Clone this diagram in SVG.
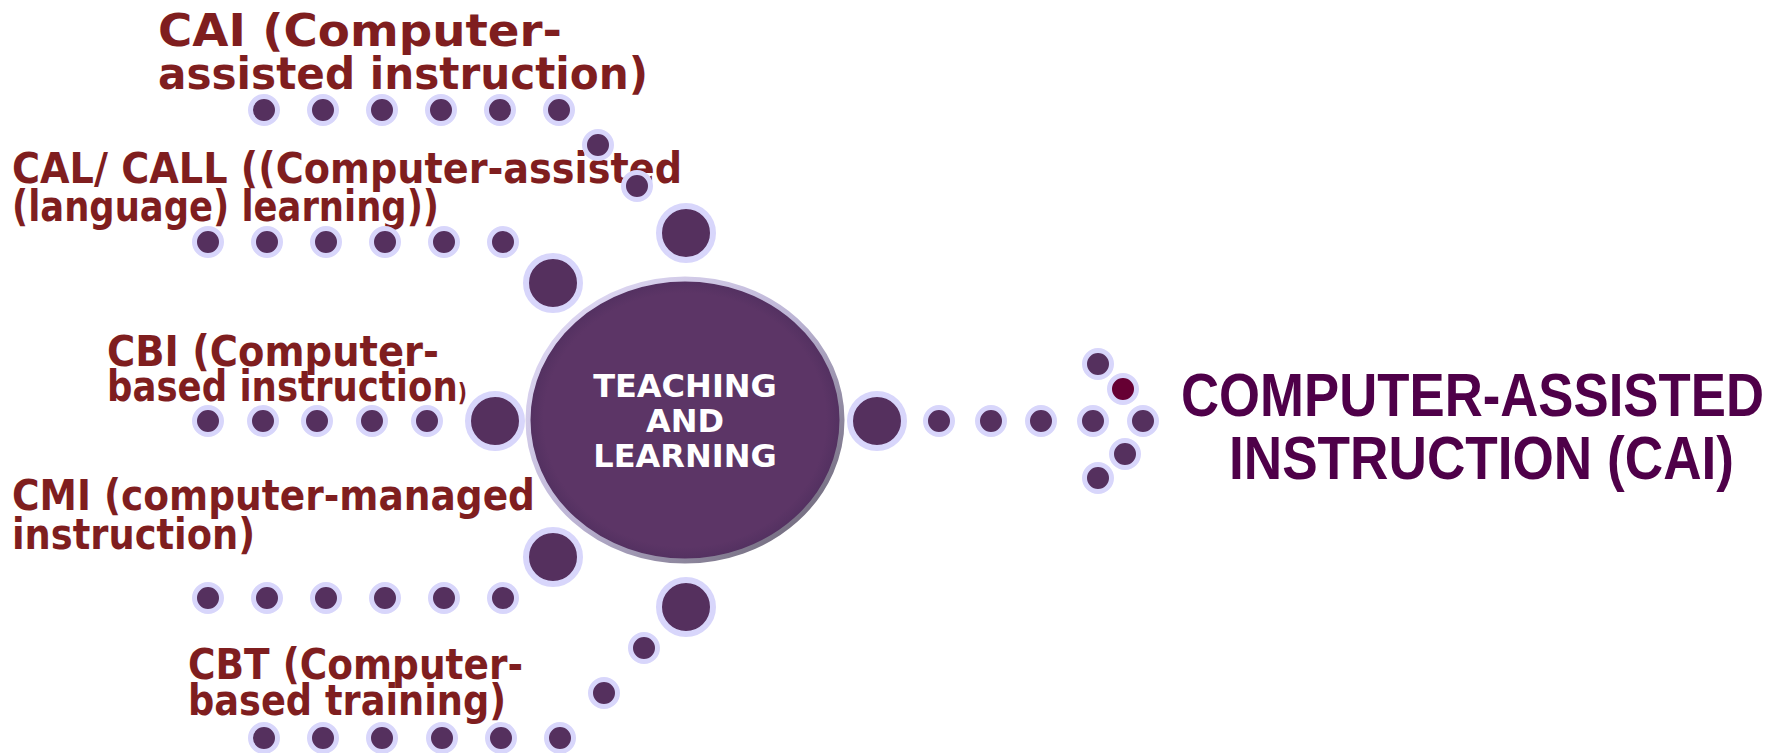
<svg xmlns="http://www.w3.org/2000/svg" width="1774" height="753" viewBox="0 0 1774 753">
<defs>
<linearGradient id="rim" x1="0" y1="0" x2="1" y2="1">
<stop offset="0" stop-color="#e8e2fc"/>
<stop offset="0.5" stop-color="#bcb4d4"/>
<stop offset="1" stop-color="#5e5866"/>
</linearGradient>
<radialGradient id="core" cx="0.5" cy="0.5" r="0.5">
<stop offset="0.9" stop-color="#5c3566"/>
<stop offset="1" stop-color="#523060"/>
</radialGradient>
</defs>
<style>
.lbl{font-family:"DejaVu Sans",sans-serif;font-weight:bold;font-size:42px;fill:#7f1e1f}
.lblw{font-family:"DejaVu Sans",sans-serif;font-weight:bold;font-size:45px;fill:#7f1e1f}
.ctr{font-family:"DejaVu Sans",sans-serif;font-weight:bold;font-size:32px;fill:#ffffff;text-anchor:middle}
.ttl{font-family:"Liberation Sans",Arial,sans-serif;font-weight:bold;font-size:53px;fill:#4f0049}
.d{fill:#55305e;stroke:#d8d6fb;stroke-width:5}
.b{fill:#55305e;stroke:#d8d6fb;stroke-width:6}
.r{fill:#660033;stroke:#d8d6fb;stroke-width:5}
</style>
<rect width="1774" height="753" fill="#ffffff"/>

<g id="label-cai">
<text class="lblw" x="158" y="46" textLength="404" lengthAdjust="spacingAndGlyphs">CAI (Computer-</text>
<text class="lblw" x="158" y="89" textLength="490" lengthAdjust="spacingAndGlyphs">assisted instruction)</text>
</g>
<g id="label-cal">
<text class="lbl" x="12" y="183" textLength="670" lengthAdjust="spacingAndGlyphs">CAL/ CALL ((Computer-assisted</text>
<text class="lbl" x="12" y="221" textLength="427" lengthAdjust="spacingAndGlyphs">(language) learning))</text>
</g>
<g id="label-cbi">
<text class="lbl" x="107" y="366" textLength="332" lengthAdjust="spacingAndGlyphs">CBI (Computer-</text>
<text class="lbl" x="107" y="401" textLength="360" lengthAdjust="spacingAndGlyphs">based instruction<tspan font-size="24">)</tspan></text>
</g>
<g id="label-cmi">
<text class="lbl" x="12" y="510" textLength="523" lengthAdjust="spacingAndGlyphs">CMI (computer-managed</text>
<text class="lbl" x="12" y="549" textLength="243" lengthAdjust="spacingAndGlyphs">instruction)</text>
</g>
<g id="label-cbt">
<text class="lbl" x="188" y="679" textLength="335" lengthAdjust="spacingAndGlyphs">CBT (Computer-</text>
<text class="lbl" x="188" y="715" textLength="318" lengthAdjust="spacingAndGlyphs">based training)</text>
</g>

<g id="connectors">
<g id="chain-cai">
<circle class="d" cx="264" cy="110" r="13.5"/><circle class="d" cx="323" cy="110" r="13.5"/><circle class="d" cx="382" cy="110" r="13.5"/><circle class="d" cx="441" cy="110" r="13.5"/><circle class="d" cx="500" cy="110" r="13.5"/><circle class="d" cx="559" cy="110" r="13.5"/>
<circle class="d" cx="598" cy="145" r="13.5"/><circle class="d" cx="637" cy="186" r="13.5"/>
<circle class="b" cx="686" cy="233" r="27"/>
</g>
<g id="chain-cal">
<circle class="d" cx="208" cy="242" r="13.5"/><circle class="d" cx="267" cy="242" r="13.5"/><circle class="d" cx="326" cy="242" r="13.5"/><circle class="d" cx="385" cy="242" r="13.5"/><circle class="d" cx="444" cy="242" r="13.5"/><circle class="d" cx="503" cy="242" r="13.5"/>
<circle class="b" cx="553" cy="283" r="27"/>
</g>
<g id="chain-cbi">
<circle class="d" cx="208" cy="421" r="13.5"/><circle class="d" cx="263" cy="421" r="13.5"/><circle class="d" cx="317" cy="421" r="13.5"/><circle class="d" cx="372" cy="421" r="13.5"/><circle class="d" cx="427" cy="421" r="13.5"/>
<circle class="b" cx="495" cy="421" r="27"/>
</g>
<g id="chain-cmi">
<circle class="b" cx="553" cy="557" r="27"/>
<circle class="d" cx="208" cy="598" r="13.5"/><circle class="d" cx="267" cy="598" r="13.5"/><circle class="d" cx="326" cy="598" r="13.5"/><circle class="d" cx="385" cy="598" r="13.5"/><circle class="d" cx="444" cy="598" r="13.5"/><circle class="d" cx="503" cy="598" r="13.5"/>
</g>
<g id="chain-cbt">
<circle class="b" cx="686" cy="607" r="27"/>
<circle class="d" cx="644" cy="648" r="13.5"/><circle class="d" cx="604" cy="693" r="13.5"/>
<circle class="d" cx="264" cy="738" r="13.5"/><circle class="d" cx="323" cy="738" r="13.5"/><circle class="d" cx="382" cy="738" r="13.5"/><circle class="d" cx="442" cy="738" r="13.5"/><circle class="d" cx="501" cy="738" r="13.5"/><circle class="d" cx="560" cy="738" r="13.5"/>
</g>
<g id="chain-right">
<circle class="b" cx="877" cy="421" r="27"/>
<circle class="d" cx="939" cy="421" r="13.5"/><circle class="d" cx="991" cy="421" r="13.5"/><circle class="d" cx="1041" cy="421" r="13.5"/><circle class="d" cx="1093" cy="421" r="13.5"/>
<circle class="d" cx="1098" cy="364" r="13.5"/><circle class="r" cx="1123" cy="389" r="13.5"/><circle class="d" cx="1143" cy="421" r="13.5"/><circle class="d" cx="1125" cy="454" r="13.5"/><circle class="d" cx="1098" cy="478" r="13.5"/>
</g>
</g>

<g id="node-center">
<ellipse cx="685" cy="420" rx="157" ry="141" fill="url(#core)" stroke="url(#rim)" stroke-width="5"/>
<text class="ctr" x="685" y="397">TEACHING</text>
<text class="ctr" x="685" y="432">AND</text>
<text class="ctr" x="685" y="467">LEARNING</text>
</g>

<g id="node-title">
<text class="ttl" transform="translate(1181 416) scale(1 1.15)" x="0" y="0" textLength="583" lengthAdjust="spacingAndGlyphs">COMPUTER-ASSISTED</text>
<text class="ttl" transform="translate(1229 479) scale(1 1.15)" x="0" y="0" textLength="505" lengthAdjust="spacingAndGlyphs">INSTRUCTION (CAI)</text>
</g>
</svg>
